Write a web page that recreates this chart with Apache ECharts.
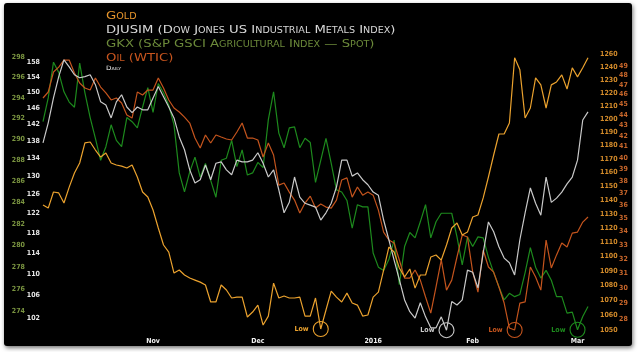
<!DOCTYPE html>
<html>
<head>
<meta charset="utf-8">
<title>Gold, DJUSIM, GKX, Oil</title>
<script src="https://cdn.jsdelivr.net/npm/echarts@6.0.0/dist/echarts.min.js"></script>
<style>
    html, body { margin: 0; padding: 0; background: #fff; }
    #panel {
        position: absolute; left: 4px; top: 3px; width: 628px; height: 343px;
        background: #000; border-radius: 3px; box-shadow: 1px 2px 4px rgba(0, 0, 0, 0.55);
    }
    #chart { position: absolute; left: 0; top: 0; width: 640px; height: 352px; }
</style>
</head>
<body>
<div id="panel"></div>
<div id="chart"></div>
<script>
// trading days, Oct 2 2015 .. Mar 3 2016
var firstDay = '2015-10-02';
var lastDay = '2016-03-03';
var holidays = ['2015-11-26', '2015-12-25', '2016-01-01', '2016-01-18', '2016-02-15'];
var monthNames = ['2016', 'Feb', 'Mar', 'Apr', 'May', 'Jun', 'Jul', 'Aug', 'Sep', 'Oct', 'Nov', 'Dec'];

var titleLines = [
    'Gold',
    'DJUSIM (Dow Jones US Industrial Metals Index)',
    'GKX (S&P GSCI Agricultural Index \u2014 Spot)',
    'Oil (WTIC)',
    'Daily'
];

var gold = [
    1136.4, 1134.2, 1145.8, 1145.1, 1137.8, 1149.3, 1159.6, 1167.0, 1181.9, 1182.6,
    1176.6, 1171.4, 1174.4, 1167.0, 1165.5, 1164.7, 1163.3, 1165.5, 1156.7, 1145.8,
    1142.2, 1132.8, 1120.0, 1108.0, 1103.1, 1088.5, 1090.6, 1087.2, 1085.1, 1083.7,
    1082.3, 1080.3, 1068.8, 1068.8, 1080.3, 1076.9, 1071.5, 1072.1, 1072.1, 1058.7,
    1062.0, 1066.7, 1053.3, 1059.3, 1081.6, 1071.5, 1072.8, 1071.5, 1071.5, 1072.1,
    1059.3, 1059.3, 1071.5, 1050.7, 1063.4, 1076.2, 1072.1, 1068.8, 1074.8, 1068.1,
    1066.7, 1059.3, 1060.0, 1072.1, 1075.5, 1090.6, 1106.6, 1103.1, 1092.0, 1085.8,
    1091.3, 1078.2, 1087.2, 1087.2, 1099.6, 1101.0, 1097.5, 1108.0, 1120.0, 1123.5,
    1115.0, 1117.1, 1127.8, 1129.2, 1141.5, 1156.7, 1172.9, 1188.6, 1188.6, 1196.9,
    1247.3, 1237.8, 1200.7, 1208.3, 1231.6, 1226.1, 1208.3, 1226.1, 1228.4, 1233.9,
    1222.9, 1239.4, 1232.3, 1239.4, 1247.3
];
var djusim = [
    137.6, 142.4, 148.6, 154.1, 158.6, 156.7, 154.6, 153.8, 154.1, 154.6,
    152.0, 147.6, 146.8, 143.6, 147.6, 149.4, 146.3, 144.9, 146.3, 145.6,
    145.6, 148.6, 151.5, 148.9, 146.3, 143.6, 139.0, 136.0, 131.4, 128.5,
    129.2, 132.5, 129.2, 132.9, 133.2, 131.4, 130.3, 133.6, 133.2, 133.2,
    133.6, 135.3, 132.9, 129.8, 131.4, 127.0, 122.1, 124.3, 129.8, 125.4,
    124.1, 123.7, 123.3, 120.6, 122.1, 124.1, 127.6, 133.6, 133.6, 130.0,
    130.7, 129.2, 128.1, 126.5, 125.8, 120.6, 116.6, 112.6, 108.9, 105.2,
    103.1, 102.0, 104.7, 102.2, 100.3, 100.3, 102.2, 99.9, 104.9, 104.3,
    105.2, 110.7, 110.3, 107.4, 114.0, 120.2, 118.2, 115.2, 113.0, 112.1,
    109.8, 116.6, 122.1, 127.4, 124.1, 121.6, 129.8, 124.3, 125.2, 126.5,
    128.3, 129.8, 133.6, 143.1, 145.1
];
var gkx = [
    291.7, 294.0, 297.5, 296.5, 294.6, 293.6, 293.1, 297.4, 294.5, 292.1,
    290.1, 288.0, 289.3, 291.4, 289.9, 289.3, 292.1, 291.7, 291.1, 293.1,
    295.0, 292.6, 295.4, 294.5, 293.3, 291.4, 286.8, 285.0, 286.9, 288.3,
    286.4, 287.7, 286.1, 284.5, 288.0, 288.2, 289.9, 287.4, 289.0, 286.6,
    286.8, 287.8, 287.3, 291.9, 294.6, 290.6, 289.2, 291.1, 291.2, 289.2,
    290.1, 289.7, 285.9, 288.0, 290.1, 287.7, 285.2, 285.0, 284.2, 281.6,
    283.8, 283.6, 283.6, 279.3, 278.0, 277.7, 278.7, 280.5, 276.4, 279.9,
    281.2, 280.7, 282.2, 283.8, 280.7, 282.2, 283.0, 283.0, 283.0, 280.8,
    278.2, 280.8, 279.9, 280.8, 280.7, 278.9, 277.5, 276.2, 275.0, 275.6,
    275.3, 275.5, 277.5, 279.8, 278.0, 277.0, 277.7, 276.8, 275.3, 275.3,
    273.8, 273.9, 272.3, 273.5, 274.4
];
var oil = [
    45.66, 46.27, 48.36, 48.89, 49.66, 49.66, 48.25, 47.20, 46.68, 46.47,
    47.72, 46.78, 46.17, 45.46, 45.66, 45.16, 43.97, 43.68, 46.27, 45.96,
    46.47, 46.47, 47.72, 46.68, 45.46, 44.66, 44.27, 43.77, 43.20, 41.79,
    40.88, 42.07, 41.33, 42.07, 41.88, 41.70, 41.61, 42.35, 43.20, 41.79,
    41.79, 41.61, 40.07, 41.33, 40.25, 37.66, 37.83, 37.08, 36.43, 35.40,
    36.19, 36.75, 35.79, 36.11, 35.87, 35.79, 36.43, 38.09, 38.26, 36.67,
    37.50, 36.83, 37.08, 36.83, 35.63, 33.94, 33.35, 33.13, 31.91, 30.66,
    30.66, 31.21, 30.52, 29.40, 28.37, 30.06, 31.91, 29.85, 30.52, 32.12,
    33.72, 33.57, 31.06, 29.72, 32.62, 31.42, 31.06, 30.06, 29.01, 27.45,
    27.33, 29.01, 29.08, 31.42, 30.73, 29.85, 33.35, 31.35, 32.27, 33.13,
    32.84, 33.86, 33.94, 34.70, 35.09
];

// axis tick labels
var gkxTicks = [274, 276, 278, 280, 282, 284, 286, 288, 290, 292, 294, 296, 298];
var djusimTicks = [102, 106, 110, 114, 118, 122, 126, 130, 134, 138, 142, 146, 150, 154, 158];
var goldTicks = [1050, 1060, 1070, 1080, 1090, 1100, 1110, 1120, 1130, 1140, 1150,
    1160, 1170, 1180, 1190, 1200, 1210, 1220, 1230, 1240, 1250];
var goldTickText = ['1050', '1060', '1070', '1080', '1090', '1100', '1110', '1120', '1130', '1140', '1150',
    '1160', '1170', '1180', '1190', '1200', '1210', '1220', '1230', '1240', '1260'];
var oilTicks = [28, 29, 30, 31, 32, 33, 34, 35, 36, 37, 38, 39, 40, 41, 42, 43, 44, 45, 46, 47, 48, 49];

var goldColor = '#eba22e';
var metalColor = '#c9c9c9';
var agriColor = '#1d8a1d';
var oilColor = '#c4541d';
var labelFont = '"DejaVu Sans Condensed", "DejaVu Sans", sans-serif';
var titleFont = '"DejaVu Sans", sans-serif';

function pad(n) {
    return n < 10 ? '0' + n : '' + n;
}

function tradingDays(start, end, skip) {
    var out = [];
    var d = new Date(start + 'T12:00:00Z');
    var stop = new Date(end + 'T12:00:00Z');
    while (d <= stop) {
        var s = d.getUTCFullYear() + '-' + pad(d.getUTCMonth() + 1) + '-' + pad(d.getUTCDate());
        var wd = d.getUTCDay();
        if (wd !== 0 && wd !== 6 && skip.indexOf(s) < 0) {
            out.push(s);
        }
        d = new Date(d.getTime() + 86400 * 1000);
    }
    return out;
}

var categories = tradingDays(firstDay, lastDay, holidays);

function monthOf(s) {
    return parseInt(s.substr(5, 2), 10);
}

function yAxisOf(position, offset, min, max, ticks, color, formatter) {
    return {
        type: 'log',
        position: position,
        offset: offset,
        min: min,
        max: max,
        axisLine: {show: false},
        axisTick: {show: false},
        splitLine: {show: false},
        axisLabel: {
            customValues: ticks,
            color: color,
            fontSize: 7,
            fontWeight: 'bold',
            fontFamily: labelFont,
            margin: position === 'left' ? 3 : 12,
            formatter: formatter
        }
    };
}

function lineSeries(name, data, axisIndex, color) {
    return {
        name: name,
        type: 'line',
        data: data,
        yAxisIndex: axisIndex,
        symbol: 'none',
        lineStyle: {color: color, width: 1.2},
        itemStyle: {color: color},
        markPoint: {
            symbol: 'circle',
            symbolSize: 15,
            data: [{type: 'min', name: 'Low'}],
            itemStyle: {color: 'rgba(0,0,0,0)', borderColor: color, borderWidth: 1.1},
            label: {
                show: true,
                position: 'left',
                distance: 4,
                formatter: 'Low',
                color: color,
                fontSize: 7,
                fontWeight: 'bold',
                fontFamily: labelFont
            }
        }
    };
}

// small-caps header, stretched wide like the original lettering
function header(text, y, color, size) {
    return {
        type: 'text',
        x: 106,
        y: y,
        scaleX: 1.2,
        silent: true,
        style: {
            text: text,
            fill: color,
            font: 'small-caps ' + size + 'px ' + titleFont,
            verticalAlign: 'middle'
        }
    };
}

var option = {
    animation: false,
    backgroundColor: 'transparent',
    graphic: [
        header(titleLines[0], 16, '#e8962c', 11),
        header(titleLines[1], 30, '#d8d8d8', 11),
        header(titleLines[2], 44, '#6c8a3a', 11),
        header(titleLines[3], 58, '#c8551e', 11),
        header(titleLines[4], 68.5, '#e8e8e8', 6)
    ],
    grid: {left: 43, right: 52, top: 40, bottom: 17},
    xAxis: {
        type: 'category',
        data: categories,
        boundaryGap: false,
        axisLine: {show: false},
        axisTick: {show: false},
        splitLine: {show: false},
        axisLabel: {
            color: '#f0f0f0',
            fontSize: 7,
            fontWeight: 'bold',
            fontFamily: labelFont,
            margin: 3,
            interval: function (index, value) {
                return index > 0 && monthOf(value) !== monthOf(categories[index - 1]);
            },
            formatter: function (value) {
                return monthNames[monthOf(value) - 1];
            }
        }
    },
    yAxis: [
        yAxisOf('left', 0, 99.08, 164.06, djusimTicks, '#e6e6e6'),
        yAxisOf('left', 15, 271.83, 299.69, gkxTicks, '#7a9440'),
        yAxisOf('right', 0, 1046.7, 1261.4, goldTicks, '#d38b2a', function (v) {
            var k = goldTicks.indexOf(Math.round(v));
            return k < 0 ? '' : goldTickText[k];
        }),
        yAxisOf('right', 19, 27.03, 51.91, oilTicks, '#c8662a')
    ],
    series: [
        lineSeries('GKX', gkx, 1, agriColor),
        lineSeries('Oil', oil, 3, oilColor),
        lineSeries('DJUSIM', djusim, 0, metalColor),
        lineSeries('Gold', gold, 2, goldColor)
    ]
};

echarts.init(document.getElementById('chart')).setOption(option);
</script>
</body>
</html>
